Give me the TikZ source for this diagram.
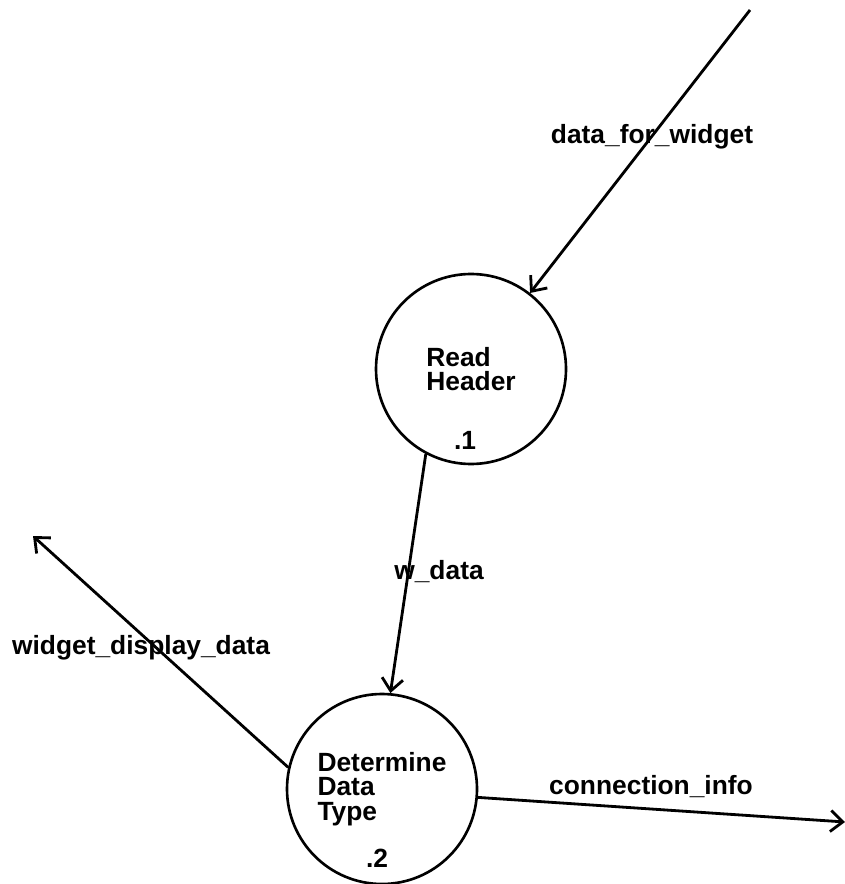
\documentclass[tikz,border=0pt]{standalone}
\usepackage{fontspec}
\setmainfont{Liberation Sans}
\usetikzlibrary{arrows.meta}

\tikzset{
    proceso/.style={circle, draw, line width=1.5pt, minimum size=3.8cm, inner sep=0pt, align=left},
    flujo/.style={line width=1.6pt, -{Straight Barb[length=7pt, width=12pt, line width=1.6pt]}},
    etiqueta/.style={inner sep=0pt}
}

\begin{document}
\begin{tikzpicture}[font=\fontsize{15}{14}\selectfont\bfseries]
    \useasboundingbox (0,0) rectangle (16.9,-17.68);
    % Procesos
    \node[proceso] (P1) at (9.42,-7.38) {Read\\Header};
    \node[proceso] (P2) at (7.64,-15.78) {Determine\\Data\\Type};
    \node[etiqueta] (n1) at (9.3,-8.8) {.1};
    \node[etiqueta] (n2) at (7.54,-17.16) {.2};

    % Extremos libres
    \coordinate (fuente) at (15.0,-0.2);
    \coordinate (salidaW) at (0.66,-10.72);
    \coordinate (salidaC) at (16.9,-16.44);

    % Flujos
    \draw[flujo] (fuente) -- (P1);
    \draw[flujo] (P1.242) -- (P2.85);
    \draw[flujo] (P2.167) -- (salidaW);
    \draw[flujo] (P2.-5) -- (salidaC);

    % Etiquetas
    \node[etiqueta] (l1) at (13.04,-2.74) {data\_for\_widget};
    \node[etiqueta] (l2) at (8.78,-11.44) {w\_data};
    \node[etiqueta] (l3) at (2.82,-12.96) {widget\_display\_data};
    \node[etiqueta] (l4) at (13.02,-15.74) {connection\_info};
\end{tikzpicture}
\end{document}
